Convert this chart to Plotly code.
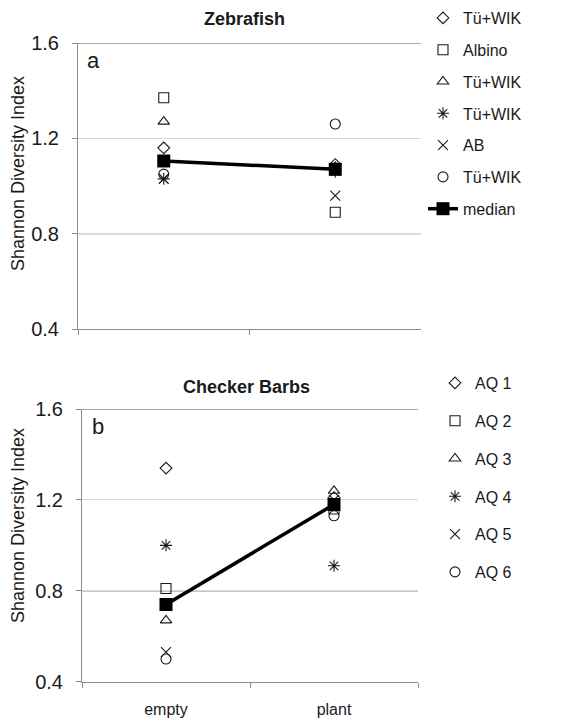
import plotly.graph_objects as go

categories = ["empty", "plant"]

# Panel a: Zebrafish
zf_names = ["Tü+WIK", "Albino", "Tü+WIK", "Tü+WIK", "AB", "Tü+WIK"]
zf_values = [
    [1.16, 1.09],
    [1.37, 0.89],
    [1.27, 1.08],
    [1.03, 1.06],
    [1.03, 0.96],
    [1.05, 1.26],
]
zf_median = [1.105, 1.07]

# Panel b: Checker Barbs
cb_names = ["AQ 1", "AQ 2", "AQ 3", "AQ 4", "AQ 5", "AQ 6"]
cb_values = [
    [1.34, 1.21],
    [0.81, 1.16],
    [0.67, 1.24],
    [1.00, 0.91],
    [0.53, 1.20],
    [0.50, 1.13],
]
cb_median = [0.74, 1.18]

y_ticks = [0.4, 0.8, 1.2, 1.6]
dark_grid = [0.8, 1.6]

symbols = ["diamond-open", "square-open", "triangle-up-open",
           "asterisk-open", "x-thin-open", "circle-open"]
sizes = [9, 10, 10, 10, 10, 10]

FONT = "Liberation Sans, Arial, sans-serif"
INK = "#1a1a1a"

fig = go.Figure()

for i, (name, vals) in enumerate(zip(zf_names, zf_values)):
    fig.add_trace(go.Scatter(
        x=categories, y=vals, name=name, mode="markers",
        marker=dict(symbol=symbols[i], size=sizes[i], color=INK,
                    line=dict(color=INK, width=1.1)),
        xaxis="x", yaxis="y", legend="legend", legendgroup="a%d" % i,
    ))
fig.add_trace(go.Scatter(
    x=categories, y=zf_median, name="median", mode="lines+markers",
    line=dict(color="black", width=3.5),
    marker=dict(symbol="square", size=13, color="black"),
    xaxis="x", yaxis="y", legend="legend", legendgroup="amed",
))

for i, (name, vals) in enumerate(zip(cb_names, cb_values)):
    fig.add_trace(go.Scatter(
        x=categories, y=vals, name=name, mode="markers",
        marker=dict(symbol=symbols[i], size=sizes[i], color=INK,
                    line=dict(color=INK, width=1.1)),
        xaxis="x2", yaxis="y2", legend="legend2", legendgroup="b%d" % i,
    ))
fig.add_trace(go.Scatter(
    x=categories, y=cb_median, name="median", mode="lines+markers",
    line=dict(color="black", width=3.5),
    marker=dict(symbol="square", size=13, color="black"),
    xaxis="x2", yaxis="y2", showlegend=False,
))

yax_common = dict(
    range=[0.4, 1.6], tickvals=y_ticks, tickformat=".1f",
    showgrid=True, gridcolor="#d9d9d9", gridwidth=1,
    showline=True, linecolor="#8c8c8c", linewidth=1,
    ticks="outside", ticklen=5, tickcolor="#8c8c8c",
    tickfont=dict(family=FONT, size=20, color=INK),
    zeroline=False, ticklabelstandoff=9, automargin=False,
)
xax_common = dict(
    type="category", categoryorder="array", categoryarray=categories,
    range=[-0.5, 1.5], tickson="boundaries",
    showgrid=False, showline=True, linecolor="#8c8c8c", linewidth=1,
    ticks="outside", ticklen=5, tickcolor="#8c8c8c",
    tickfont=dict(family=FONT, size=16, color=INK), zeroline=False,
    automargin=False,
)

fig.update_layout(
    width=588, height=723, autosize=False,
    margin=dict(l=0, r=0, t=0, b=0, pad=0, autoexpand=False),
    paper_bgcolor="white", plot_bgcolor="white",
    font=dict(family=FONT, color=INK),
    xaxis=dict(xax_common, domain=[78/588, 421/588], anchor="y", showticklabels=False),
    yaxis=dict(yax_common, domain=[1-329/723, 1-43/723], anchor="x"),
    xaxis2=dict(xax_common, domain=[82/588, 418/588], anchor="y2", ticklabelstandoff=13),
    yaxis2=dict(yax_common, domain=[1-681.7/723, 1-409/723], anchor="x2"),
    legend=dict(x=423/588, y=1-1/723, xanchor="left", yanchor="top",
                font=dict(family=FONT, size=16, color=INK),
                tracegroupgap=8, bgcolor="rgba(0,0,0,0)", itemsizing="trace"),
    legend2=dict(x=435/588, y=1-366/723, xanchor="left", yanchor="top",
                 font=dict(family=FONT, size=16, color=INK),
                 tracegroupgap=14, bgcolor="rgba(0,0,0,0)", itemsizing="trace"),
)

shapes = []
for yref in ["y", "y2"]:
    xref = "x domain" if yref == "y" else "x2 domain"
    for g in dark_grid:
        shapes.append(dict(type="line", xref=xref, yref=yref, x0=0, x1=1,
                           y0=g, y1=g, line=dict(color="#8c8c8c", width=1.3),
                           layer="below"))
fig.update_layout(shapes=shapes)

common_ann = dict(xref="paper", yref="paper", showarrow=False,
                  xanchor="center", yanchor="middle")
annotations = [
    dict(common_ann, text="<b>Zebrafish</b>", x=244/588, y=1-19/723,
         font=dict(family=FONT, size=18, color=INK)),
    dict(common_ann, text="<b>Checker Barbs</b>", x=246/588, y=1-387/723,
         font=dict(family=FONT, size=18, color=INK)),
    dict(common_ann, text="Shannon Diversity Index", x=18/588, y=1-174/723,
         textangle=-90, font=dict(family=FONT, size=18, color=INK)),
    dict(common_ann, text="Shannon Diversity Index", x=18/588, y=1-526/723,
         textangle=-90, font=dict(family=FONT, size=18, color=INK)),
    dict(common_ann, text="a", x=93/588, y=1-60/723,
         font=dict(family=FONT, size=22, color=INK)),
    dict(common_ann, text="b", x=98/588, y=1-426/723,
         font=dict(family=FONT, size=22, color=INK)),
]
fig.update_layout(annotations=annotations)

fig.write_html("out.html", config={"displayModeBar": False},
               post_script="document.body.style.margin='0';document.body.style.overflow='hidden';")
